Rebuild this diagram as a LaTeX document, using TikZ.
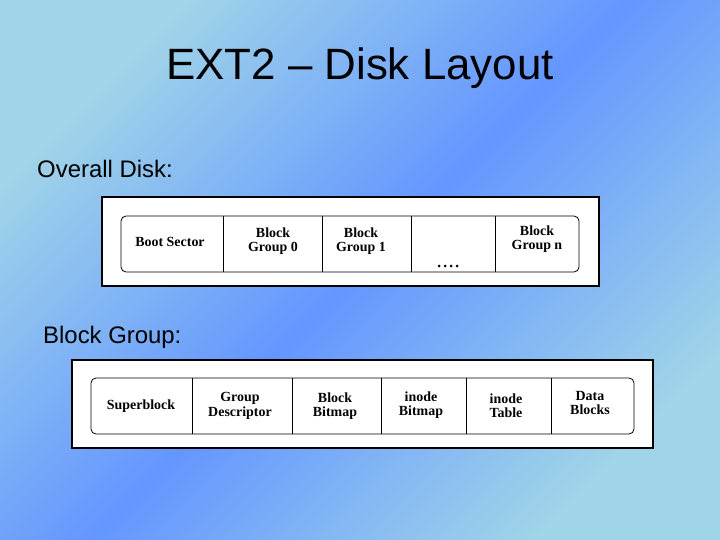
\documentclass[tikz,border=0pt]{standalone}
\usepackage{fontspec}
\setmainfont{Liberation Sans}
\newfontfamily\serifb{Liberation Serif}
\definecolor{bgA}{RGB}{160,212,232}
\definecolor{bgB}{RGB}{100,150,255}
\begin{document}
\begin{tikzpicture}[x=1bp,y=-1bp,
  outer/.style={draw=black,line width=1.2bp,fill=white},
  inner/.style={draw=black,line width=0.8bp,rounded corners=5bp},
  cell/.style={font=\serifb\bfseries\fontsize{14}{14.5}\selectfont,align=center,inner sep=0pt},
  lbl/.style={anchor=west,font=\fontsize{24}{27}\selectfont,inner sep=0pt}]
\useasboundingbox (0,0) rectangle (720,540);
\shade[top color=bgA,bottom color=bgA,middle color=bgB,shading angle=45] (0,0) rectangle (720,540);
\node[font=\fontsize{44}{48}\selectfont,inner sep=0pt] (title) at (360,68) {EXT2 – Disk Layout};
\node[lbl] (l1) at (37,169) {Overall Disk:};
\node[lbl] (l2) at (43,337) {Block Group:};
% overall disk
\draw[outer] (102,197) rectangle (599,286);
\draw[inner] (121,216) rectangle (579,272);
\foreach \x in {223,322,411,495} \draw[line width=0.8bp] (\x,216) -- (\x,272);
\node[cell] (bs) at (170,242) {Boot Sector};
\node[cell] (g0) at (273,241) {Block\\Group 0};
\node[cell] (g1) at (361,241) {Block\\Group 1};
\node[cell] (dots) at (448,266) {};
\foreach \x in {-9,-3,3,9} \fill ([xshift=\x bp]dots.center) circle (1.5bp);
\node[cell] (gn) at (537,239) {Block\\Group n};
% block group
\draw[outer] (72,360) rectangle (653,448);
\draw[inner] (91,378) rectangle (634,434);
\foreach \x in {192,292,381,466,551} \draw[line width=0.8bp] (\x,378) -- (\x,434);
\node[cell] (sb) at (141,406) {Superblock};
\node[cell] (gd) at (240,406) {Group\\Descriptor};
\node[cell] (bb) at (335,406) {Block\\Bitmap};
\node[cell] (ib) at (421,405) {inode\\Bitmap};
\node[cell] (it) at (506,406) {inode\\Table};
\node[cell] (db) at (590,403) {Data\\Blocks};
\end{tikzpicture}
\end{document}
